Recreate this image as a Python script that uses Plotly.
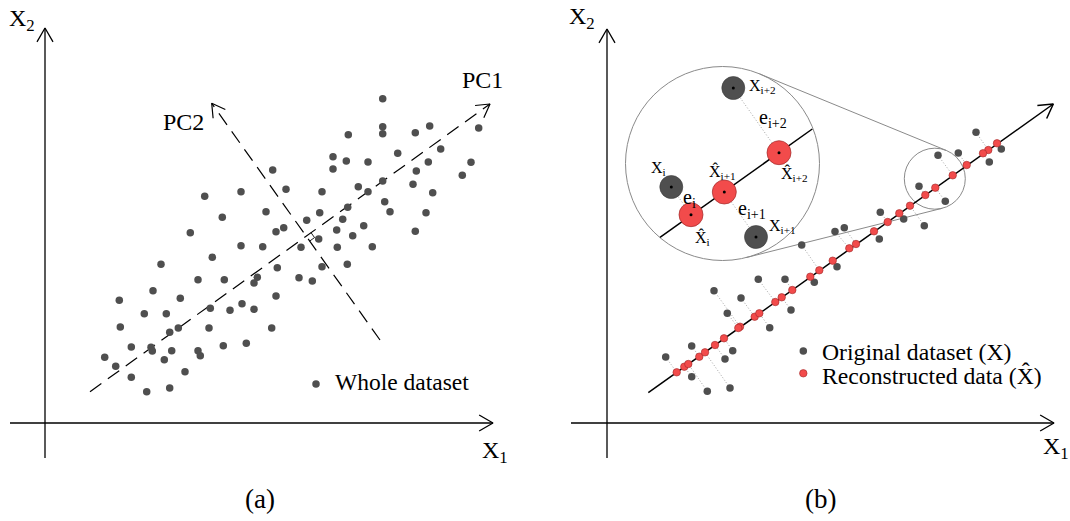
import math
import plotly.graph_objects as go

# ---------------- data ----------------
# Panel (a): whole dataset, coordinates (X1, X2)
a_x1 = [227.7, 241, 159.7, 196, 177.3, 221, 145.3, 231, 238.7, 196, 217.7,
        337.7, 337.7, 337.7, 303.3, 370.3, 384.7, 433.7, 395.7, 352.7, 288, 288, 301.3, 323, 383.3, 426,
        371.3, 417.3, 337.7, 313.3, 323, 368, 387.7, 277, 339.7, 302.7, 345, 381, 274.7, 261.7, 297.7,
        318.7, 291.7, 307.7, 370.3, 273.7, 256, 292.3, 327.3,
        167.3, 116, 232.3, 153, 179.3, 212.3, 209, 108, 74.3, 135.3, 231, 99.3, 121.3, 165.3, 185, 197,
        209, 75.3, 124.7, 133.3, 164, 226.7, 86.3, 106, 107.3, 126.7, 153, 155.3, 178.3, 201.3, 59.7,
        70.7, 119.3, 86.3, 140, 101.7, 124.7,
        277, 302.3, 254, 267.3]
a_x2 = [253, 233.7, 226.7, 231.3, 205.7, 211.3, 190.3, 191.3, 195.3, 177.3, 176.3,
        324.3, 296.3, 289.3, 288.3, 290.3, 297, 295, 274, 269.7, 266.3, 254, 262, 261, 261, 260.7,
        252, 247.7, 242, 236.3, 231.3, 238.7, 230.3, 231.3, 221.3, 215.7, 211.3, 210.3, 210.3, 202.7, 203.7,
        197.3, 193, 187.3, 191.7, 184, 175.7, 175.7, 176.3,
        165.7, 158.7, 155.3, 143.3, 143.3, 145.7, 140, 132.3, 122.7, 124.7, 127, 109.3, 109.3, 114.7, 112.7, 119.3,
        113.7, 96, 90.7, 95, 95, 95, 76, 75.7, 72, 72.3, 72.3, 67.3, 77.3, 79.7, 65.7,
        56.7, 63.3, 45.7, 51.3, 31.3, 35,
        156.3, 158.7, 145.3, 142]

# Panel (b): original points and their reconstructions (paired by index)
b_orig_x1 = [369, 394.3, 382.3, 351.3, 331, 312, 338.3, 273.3, 296.7, 317.3, 272.3, 237.3, 228, 194.7, 230,
             151.3, 178, 207.3, 107, 134, 120.3, 184, 162.7, 84.7, 125.7, 58.7, 118, 84.7, 100.3, 123]
b_orig_x2 = [290.7, 274, 261, 270, 267.7, 236.7, 221.7, 210.7, 204, 197.3, 184, 195.3, 191.5, 178, 156.3,
             143.7, 143.7, 140.7, 132.3, 125, 109.7, 113, 95.3, 77, 72.3, 66, 64, 46.3, 31.7, 35]
b_rec_x1 = [381.3, 390, 376, 359.7, 345.7, 318.3, 328.3, 280.7, 292.3, 303, 267, 249, 242.3, 212.3, 225.7,
            168.3, 185.3, 203.3, 133, 147.7, 131.3, 174.7, 152.3, 92.3, 117, 69.7, 108, 77.3, 81.3, 98]
b_rec_x2 = [273, 279.7, 269.7, 258, 247.7, 228, 235.3, 201, 209.7, 217.3, 191.7, 179, 174.7, 152.7, 162.3,
            121, 133, 146.3, 96.3, 106.3, 95, 125.7, 109.7, 66.3, 84.7, 50.7, 78, 56.3, 59, 70.7]

# Magnified view: x_i, x_{i+1}, x_{i+2} and reconstructions
mag_orig_x1 = [64.3, 149, 126.3]
mag_orig_x2 = [236, 186, 335]
mag_rec_x1 = [84, 117.3, 172]
mag_rec_x2 = [208.3, 231, 270.3]

GRAY = "#4f4f4f"
RED = "#f24b4b"
RED_EDGE = "#a02828"
FONT = "Liberation Serif"

fig = go.Figure()


def line(xs, ys, ax, color="black", width=1.3, dash=None):
    fig.add_trace(go.Scatter(x=xs, y=ys, xaxis=ax[0], yaxis=ax[1], mode="lines",
                             line=dict(color=color, width=width, dash=dash),
                             hoverinfo="skip", showlegend=False))


def vee(tip, frm, ax, length=16, half=30, width=1.3):
    ux, uy = frm[0] - tip[0], frm[1] - tip[1]
    n = math.hypot(ux, uy)
    ux, uy = ux / n, uy / n
    pts = []
    for s in (1, -1):
        a = math.radians(half * s)
        rx = ux * math.cos(a) - uy * math.sin(a)
        ry = ux * math.sin(a) + uy * math.cos(a)
        pts.append((tip[0] + length * rx, tip[1] + length * ry))
    line([pts[0][0], tip[0], pts[1][0]], [pts[0][1], tip[1], pts[1][1]], ax, width=width)


def text(x, y, s, size, ax, xanchor="center", yanchor="middle", color="black"):
    fig.add_annotation(x=x, y=y, xref=ax[0], yref=ax[1], text=s, showarrow=False,
                       xanchor=xanchor, yanchor=yanchor,
                       font=dict(family=FONT, size=size, color=color))


A = ("x", "y")
B = ("x2", "y2")

# ---------------- panel (a) ----------------
line([0, 0], [-35, 395], A)
vee((0, 395), (0, 0), A)
line([-35, 448], [0, 0], A)
vee((448, 0), (0, 0), A)

pc1_start, pc1_tip = (45, 31.3), (445, 319)
pc2_start, pc2_tip = (335, 83), (166.7, 319.7)
line([pc1_start[0], pc1_tip[0]], [pc1_start[1], pc1_tip[1]], A, width=1.2, dash="14px,8px")
vee(pc1_tip, pc1_start, A, length=15, width=1.2)
line([pc2_start[0], pc2_tip[0]], [pc2_start[1], pc2_tip[1]], A, width=1.2, dash="14px,8px")
vee(pc2_tip, pc2_start, A, length=15, width=1.2)

# right-angle mark at the intersection of PC1 and PC2
d1 = (pc1_tip[0] - pc1_start[0], pc1_tip[1] - pc1_start[1])
d2 = (pc2_start[0] - pc2_tip[0], pc2_start[1] - pc2_tip[1])
den = d1[0] * (-d2[1]) - d1[1] * (-d2[0])
t = ((pc2_tip[0] - pc1_start[0]) * (-d2[1]) - (pc2_tip[1] - pc1_start[1]) * (-d2[0])) / den
P = (pc1_start[0] + t * d1[0], pc1_start[1] + t * d1[1])
n1 = math.hypot(*d1); n2 = math.hypot(*d2)
u1 = (d1[0] / n1, d1[1] / n1); u2 = (d2[0] / n2, d2[1] / n2)
m = 6
line([P[0] + m * u2[0], P[0] + m * u2[0] + m * u1[0], P[0] + m * u1[0]],
     [P[1] + m * u2[1], P[1] + m * u2[1] + m * u1[1], P[1] + m * u1[1]], A, width=0.9)

fig.add_trace(go.Scatter(x=a_x1, y=a_x2, xaxis="x", yaxis="y", mode="markers",
                         marker=dict(size=7.5, color=GRAY), hoverinfo="skip", showlegend=False))

text(-22.6, 403, "X<sub>2</sub>", 24, A)
text(449.5, -29, "X<sub>1</sub>", 24, A)
text(437, 343, "PC1", 24, A)
text(138.3, 301.3, "PC2", 24, A)
text(215, -76, "(a)", 27, A)
fig.add_trace(go.Scatter(x=[271], y=[39], xaxis="x", yaxis="y", mode="markers",
                         marker=dict(size=7.5, color=GRAY), hoverinfo="skip", showlegend=False))
text(288, 41.3, "Whole dataset", 23.5, A, xanchor="left")

# ---------------- panel (b) ----------------
line([0, 0], [-35, 394], B)
vee((0, 394), (0, 0), B)
line([-36, 447], [0, 0], B)
vee((447, 0), (0, 0), B)

# magnifier circles and connecting tangents
C1, r1 = (115.5, 259.5), 97.0
C2, r2 = (327.8, 244.3), 30.5
for (cx, cy), r in ((C1, r1), (C2, r2)):
    fig.add_shape(type="circle", xref="x2", yref="y2", x0=cx - r, x1=cx + r, y0=cy - r, y1=cy + r,
                  line=dict(color="#8a8a8a", width=1), layer="below")
dx, dy = C2[0] - C1[0], C2[1] - C1[1]
dd = math.hypot(dx, dy)
th = math.atan2(dy, dx)
al = math.acos((r1 - r2) / dd)
for sgn in (1, -1):
    ph = th + sgn * al
    mx, my = math.cos(ph), math.sin(ph)
    line([C1[0] + r1 * mx, C2[0] + r2 * mx], [C1[1] + r1 * my, C2[1] + r2 * my], B,
         color="#8a8a8a", width=1)

# principal axis
ls, lt = (41.3, 30.3), (446.3, 319)
line([ls[0], lt[0]], [ls[1], lt[1]], B, width=1.5)
vee(lt, ls, B, length=16, width=1.5)

# projection (error) segments
px, py = [], []
for ox, oy, rx, ry in zip(b_orig_x1, b_orig_x2, b_rec_x1, b_rec_x2):
    px += [ox, rx, None]
    py += [oy, ry, None]
line(px, py, B, color="#9a9a9a", width=0.9, dash="1px,2px")

fig.add_trace(go.Scatter(x=b_orig_x1, y=b_orig_x2, xaxis="x2", yaxis="y2", mode="markers",
                         marker=dict(size=7.5, color=GRAY), hoverinfo="skip", showlegend=False))
fig.add_trace(go.Scatter(x=b_rec_x1, y=b_rec_x2, xaxis="x2", yaxis="y2", mode="markers",
                         marker=dict(size=7.5, color=RED, line=dict(color=RED_EDGE, width=0.6)),
                         hoverinfo="skip", showlegend=False))

# magnified view contents
line([53, 205.3], [185.7, 294], B, width=1.5)
mx_, my_ = [], []
for ox, oy, rx, ry in zip(mag_orig_x1, mag_orig_x2, mag_rec_x1, mag_rec_x2):
    mx_ += [ox, rx, None]
    my_ += [oy, ry, None]
line(mx_, my_, B, color="#9a9a9a", width=0.9, dash="1px,2px")
fig.add_trace(go.Scatter(x=mag_orig_x1, y=mag_orig_x2, xaxis="x2", yaxis="y2", mode="markers",
                         marker=dict(size=23, color=GRAY, line=dict(color="#3a3a3a", width=0.6)),
                         hoverinfo="skip", showlegend=False))
fig.add_trace(go.Scatter(x=mag_rec_x1, y=mag_rec_x2, xaxis="x2", yaxis="y2", mode="markers",
                         marker=dict(size=24, color=RED, line=dict(color=RED_EDGE, width=0.7)),
                         hoverinfo="skip", showlegend=False))
fig.add_trace(go.Scatter(x=mag_orig_x1 + mag_rec_x1, y=mag_orig_x2 + mag_rec_x2, xaxis="x2", yaxis="y2",
                         mode="markers", marker=dict(size=3, color="black"),
                         hoverinfo="skip", showlegend=False))

text(139.7, 337, "X<sub>i+2</sub>", 16, B, xanchor="left")
text(166.3, 304.7, "e<sub>i+2</sub>", 20, B)
text(187, 249, "X\u0302<sub>i+2</sub>", 16, B)
text(51.3, 254.7, "X<sub>i</sub>", 16, B)
text(115.5, 251, "X\u0302<sub>i+1</sub>", 16, B)
text(82.3, 224.7, "e<sub>i</sub>", 20, B)
text(145, 214, "e<sub>i+1</sub>", 20, B)
text(160, 196.3, "X<sub>i+1</sub>", 16, B, xanchor="left")
text(95.5, 185, "X\u0302<sub>i</sub>", 16, B)

text(-24.7, 404.7, "X<sub>2</sub>", 24, B)
text(448.6, -25.3, "X<sub>1</sub>", 24, B)
text(213.6, -76, "(b)", 27, B)

fig.add_trace(go.Scatter(x=[196.3], y=[72], xaxis="x2", yaxis="y2", mode="markers",
                         marker=dict(size=7.5, color=GRAY), hoverinfo="skip", showlegend=False))
fig.add_trace(go.Scatter(x=[196.3], y=[49.7], xaxis="x2", yaxis="y2", mode="markers",
                         marker=dict(size=7.5, color=RED, line=dict(color=RED_EDGE, width=0.6)),
                         hoverinfo="skip", showlegend=False))
text(212.7, 71.3, "Original dataset (X)", 23.7, B, xanchor="left")
text(212.7, 48, "Reconstructed data (X\u0302)", 23.7, B, xanchor="left")

ax_common = dict(visible=False, showgrid=False, zeroline=False, fixedrange=True)
fig.update_layout(
    width=1070, height=521,
    margin=dict(l=0, r=0, t=0, b=0),
    paper_bgcolor="white", plot_bgcolor="white",
    showlegend=False,
    xaxis=dict(domain=[0, 0.5], range=[-45, 490], **ax_common),
    yaxis=dict(domain=[0, 1], range=[-98, 423], anchor="x", **ax_common),
    xaxis2=dict(domain=[0.5, 1], range=[-72, 463], anchor="y2", **ax_common),
    yaxis2=dict(domain=[0, 1], range=[-98, 423], anchor="x2", **ax_common),
)

fig.write_html("out.html")
